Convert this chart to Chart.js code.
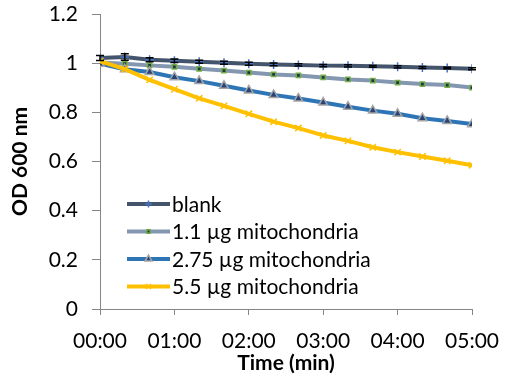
<!DOCTYPE html>
<html>
<head>
<meta charset="utf-8">
<script src="https://cdn.jsdelivr.net/npm/chart.js@4.4.1/dist/chart.umd.min.js"></script>
<style>
html,body{margin:0;padding:0;background:#fff;}
#wrap{width:516px;height:383px;}
</style>
</head>
<body>
<div id="wrap"><canvas id="c" width="516" height="383"></canvas></div>
<script>
// ---- data ----
const timesMin = [0,20,40,60,80,100,120,140,160,180,200,220,240,260,280,300];
const seriesNames = ['blank','1.1 µg mitochondria','2.75 µg mitochondria','5.5 µg mitochondria'];
const blank   = [1.021,1.025,1.014,1.010,1.006,1.002,0.998,0.995,0.993,0.990,0.989,0.987,0.985,0.982,0.980,0.977];
const blankErr= [0.010,0.013,0.008,0.007,0.006,0.006,0.006,0.006,0.005,0.005,0.005,0.004,0.005,0.004,0.003,0.004];
const mito1_1 = [1.003,0.998,0.991,0.985,0.977,0.970,0.962,0.954,0.950,0.942,0.934,0.929,0.921,0.915,0.911,0.901];
const mito2_75= [0.998,0.975,0.964,0.943,0.927,0.908,0.889,0.871,0.856,0.840,0.823,0.807,0.794,0.776,0.765,0.752];
const mito5_5 = [1.008,0.976,0.932,0.894,0.857,0.826,0.794,0.762,0.736,0.706,0.684,0.658,0.638,0.620,0.603,0.585];
const xTickLabels = ['00:00','01:00','02:00','03:00','04:00','05:00'];
const yTickLabels = ['0','0.2','0.4','0.6','0.8','1','1.2'];

const FONT = 'Lato, "Liberation Sans", sans-serif';
const FS = 21;
const AXIS = '#868686';

function pts(vals){ return vals.map((v,i)=>({x:timesMin[i], y:v})); }

const datasets = [
  {label:seriesNames[0], data:pts(blank), borderColor:'#44546A', borderWidth:4,
   pointStyle:'cross', pointRadius:4.5, pointBorderColor:'#4472C4', pointBackgroundColor:'#4472C4', pointBorderWidth:1.5, order:4},
  {label:seriesNames[1], data:pts(mito1_1), borderColor:'#8497B0', borderWidth:4,
   pointStyle:'rect', pointRadius:3, pointBorderColor:'#70AD47', pointBackgroundColor:'#243447', pointBorderWidth:1.5, order:3},
  {label:seriesNames[2], data:pts(mito2_75), borderColor:'#2E75B6', borderWidth:4,
   pointStyle:'triangle', pointRadius:5, pointBorderColor:'#A5A5A5', pointBackgroundColor:'#264478', pointBorderWidth:1.5, order:2},
  {label:seriesNames[3], data:pts(mito5_5), borderColor:'#FFC000', borderWidth:4,
   pointStyle:'crossRot', pointRadius:4.5, pointBorderColor:'#FFC000', pointBackgroundColor:'#FFC000', pointBorderWidth:1.5, order:1}
];
datasets.forEach(d=>{ d.tension=0; d.fill=false; d.borderJoinStyle='round'; });

const errorBars = {
  id:'errorBars',
  afterDatasetsDraw(chart){
    const ctx = chart.ctx, xs = chart.scales.x, ys = chart.scales.y;
    ctx.save();
    ctx.strokeStyle = '#000'; ctx.lineWidth = 1.5;
    blank.forEach((v,i)=>{
      const x = xs.getPixelForValue(timesMin[i]);
      const y1 = ys.getPixelForValue(v + blankErr[i]);
      const y2 = ys.getPixelForValue(v - blankErr[i]);
      ctx.beginPath();
      ctx.moveTo(x,y1); ctx.lineTo(x,y2);
      ctx.moveTo(x-4,y1); ctx.lineTo(x+4,y1);
      ctx.moveTo(x-4,y2); ctx.lineTo(x+4,y2);
      ctx.stroke();
    });
    ctx.restore();
  }
};

const innerLegend = {
  id:'innerLegend',
  afterDraw(chart){
    const ctx = chart.ctx;
    const x0 = 127, x1 = 170, y0 = 204, dy = 27.5;
    ctx.save();
    chart.data.datasets.forEach((d,i)=>{
      const y = y0 + i*dy;
      ctx.strokeStyle = d.borderColor; ctx.lineWidth = d.borderWidth;
      ctx.beginPath(); ctx.moveTo(x0,y); ctx.lineTo(x1,y); ctx.stroke();
      ctx.strokeStyle = d.pointBorderColor; ctx.fillStyle = d.pointBackgroundColor;
      ctx.lineWidth = d.pointBorderWidth;
      Chart.helpers.drawPoint(ctx, {pointStyle:d.pointStyle, radius:d.pointRadius*0.8, borderWidth:d.pointBorderWidth, rotation:0}, (x0+x1)/2, y);
      ctx.fillStyle = '#000';
      ctx.font = FS + 'px ' + FONT;
      ctx.textAlign = 'left'; ctx.textBaseline = 'middle';
      ctx.fillText(d.label, 172, y+1);
    });
    ctx.restore();
  }
};

new Chart(document.getElementById('c'), {
  type:'line',
  data:{datasets},
  options:{
    responsive:false, animation:false, devicePixelRatio:1,
    layout:{padding:{left:0,right:44,top:14,bottom:0}},
    plugins:{legend:{display:false}, tooltip:{enabled:false}},
    scales:{
      x:{type:'linear', min:0, max:300,
        afterBuildTicks(s){ s.ticks = xTickLabels.map((_,i)=>({value:i*60})); },
        ticks:{callback:(v)=>xTickLabels[Math.round(v/60)], color:'#000', font:{family:FONT,size:FS}, padding:14, maxRotation:0},
        grid:{drawOnChartArea:false, color:AXIS, tickLength:6, lineWidth:1},
        border:{color:AXIS, width:1},
        title:{display:true, text:'Time (min)', color:'#000', font:{family:FONT,size:FS,weight:'bold'}, padding:{top:0,bottom:7}},
        afterFit(s){ s.height = 74; s.paddingLeft = 0; s.paddingRight = 0; }
      },
      y:{min:0, max:1.2,
        afterBuildTicks(s){ s.ticks = yTickLabels.map(t=>({value:parseFloat(t)})); },
        ticks:{callback:(v)=>yTickLabels[Math.round(v/0.2)], color:'#000', font:{family:FONT,size:FS}, padding:14},
        grid:{drawOnChartArea:false, color:AXIS, tickLength:8, lineWidth:1},
        border:{color:AXIS, width:1},
        title:{display:true, text:'OD 600 nm', color:'#000', font:{family:FONT,size:FS,weight:'bold'}, padding:{top:8,bottom:0}},
        afterFit(s){ s.width = 100; s.paddingTop = 0; s.paddingBottom = 0; }
      }
    }
  },
  plugins:[errorBars, innerLegend]
});
</script>
</body>
</html>
